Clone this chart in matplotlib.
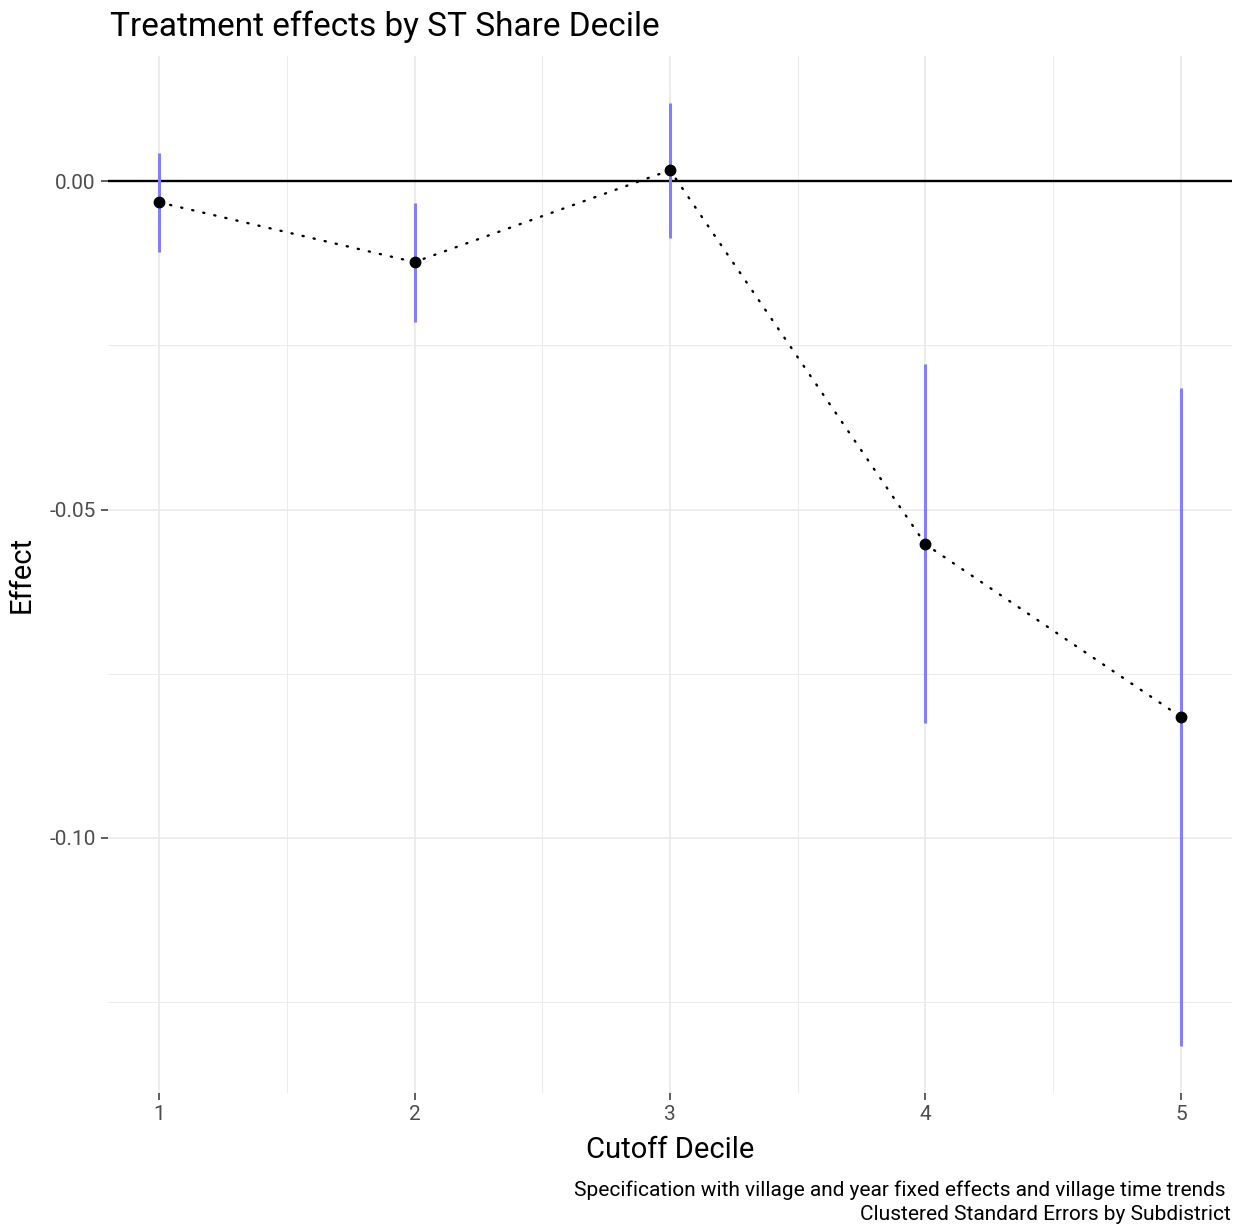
import numpy as np
import matplotlib
matplotlib.use('Agg')
import matplotlib.pyplot as plt
from matplotlib.ticker import MultipleLocator, FormatStrFormatter

plt.rcParams['font.family'] = ['Roboto', 'DejaVu Sans']

# valori
decile   = [1, 2, 3, 4, 5]
effect   = [-0.0032, -0.0123, 0.0017, -0.0553, -0.0816]
ci_upper = [0.0043, -0.0033, 0.0119, -0.0279, -0.0315]
ci_lower = [-0.0107, -0.0215, -0.0087, -0.0826, -0.1317]

title    = 'Treatment effects by ST Share Decile'
xlab     = 'Cutoff Decile'
ylab     = 'Effect'
caption1 = 'Specification with village and year fixed effects and village time trends '
caption2 = 'Clustered Standard Errors by Subdistrict'

W, H = 1241, 1228
fig = plt.figure(figsize=(W/100, H/100), dpi=100)
ax = fig.add_axes([108/W, 1 - 1093/H, (1232-108)/W, (1093-56)/H])

# griglia stile theme_minimal
ax.set_axisbelow(True)
ax.grid(which='major', color='#ebebeb', lw=1.3)
ax.grid(which='minor', color='#ebebeb', lw=0.7)
for s in ax.spines.values():
	s.set_visible(False)

# linea dello zero
ax.axhline(0, color='black', lw=1.7, zorder=2)

# barre di errore
ax.vlines(decile, ci_lower, ci_upper, color='#7f7fff', lw=2.2, zorder=3)

# linea punteggiata e punti
ax.plot(decile, effect, color='black', lw=1.7, linestyle=(0, (0.5, 4.3)),
	dash_capstyle='round', zorder=4)
ax.plot(decile, effect, 'o', color='black', ms=7.5, zorder=5)

ax.set_xlim(0.8, 5.2)
ax.set_ylim(-0.1389, 0.0191)
ax.xaxis.set_major_locator(MultipleLocator(1))
ax.xaxis.set_minor_locator(MultipleLocator(0.5))
ax.yaxis.set_major_locator(MultipleLocator(0.05))
ax.yaxis.set_minor_locator(MultipleLocator(0.025))
ax.yaxis.set_major_formatter(FormatStrFormatter('%.2f'))

ax.tick_params(which='major', length=4.8, width=1.1, color='#333333',
	labelcolor='#4d4d4d', labelsize=15, pad=4)
ax.tick_params(which='minor', length=0)

ax.set_xlabel(xlab, fontsize=21, labelpad=8.5)
ax.set_ylabel(ylab, fontsize=21, labelpad=10)

fig.text(110/W, 1 - 36/H, title, fontsize=24, ha='left', va='baseline')
fig.text(1231/W, 1 - 1196/H, caption1, fontsize=15, ha='right', va='baseline')
fig.text(1231/W, 1 - 1220/H, caption2, fontsize=15, ha='right', va='baseline')

fig.savefig('out.png', dpi=100)
